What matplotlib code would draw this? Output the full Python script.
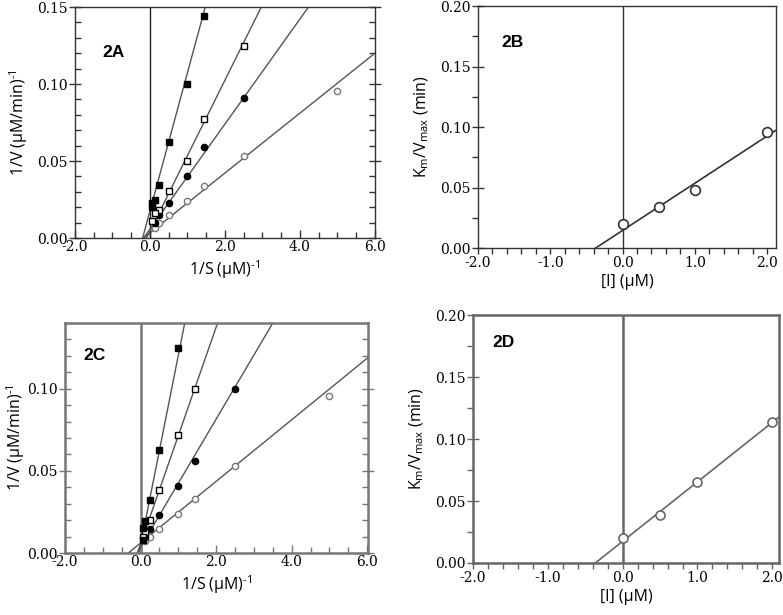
import numpy as np
import matplotlib
matplotlib.use("Agg")
import matplotlib.pyplot as plt
from matplotlib.ticker import MultipleLocator, FormatStrFormatter

# ---- data ----
# 2A: double reciprocal plot, four inhibitor levels
a_oc_x = [5.0, 2.5, 1.43, 1.0, 0.5, 0.25, 0.125]
a_oc_y = [0.0955, 0.0535, 0.0335, 0.024, 0.0147, 0.0098, 0.0068]
a_fc_x = [2.5, 1.43, 1.0, 0.5, 0.25, 0.125]
a_fc_y = [0.091, 0.059, 0.040, 0.0225, 0.015, 0.010]
a_os_x = [2.5, 1.43, 1.0, 0.5, 0.25, 0.125, 0.0625]
a_os_y = [0.125, 0.0775, 0.050, 0.0305, 0.0185, 0.0163, 0.011]
a_fs_x = [1.43, 1.0, 0.5, 0.25, 0.125, 0.0625, 0.0625]
a_fs_y = [0.144, 0.100, 0.0625, 0.0345, 0.0245, 0.0225, 0.020]
# fitted lines (slope, intercept)
a_slopes = [0.01945, 0.0341, 0.049, 0.0897]
a_inters = [0.0033, 0.0058, 0.0045, 0.0177]

# 2B: secondary plot
b_x = [0.0, 0.5, 1.0, 2.0]
b_y = [0.0195, 0.034, 0.048, 0.096]
b_slope, b_inter = 0.039, 0.0145

# 2C: double reciprocal plot
c_oc_x = [5.0, 2.5, 1.43, 1.0, 0.5, 0.25, 0.125]
c_oc_y = [0.0955, 0.053, 0.033, 0.024, 0.0145, 0.0095, 0.0075]
c_fc_x = [2.5, 1.43, 1.0, 0.5, 0.25, 0.125]
c_fc_y = [0.100, 0.056, 0.041, 0.023, 0.0145, 0.010]
c_os_x = [1.43, 1.0, 0.5, 0.25, 0.125, 0.0625]
c_os_y = [0.100, 0.072, 0.0385, 0.020, 0.0125, 0.010]
c_fs_x = [1.0, 0.5, 0.25, 0.125, 0.0625, 0.0625]
c_fs_y = [0.125, 0.0625, 0.0325, 0.0197, 0.015, 0.008]
c_slopes = [0.01875, 0.039, 0.0659, 0.1157]
c_inters = [0.0061, 0.0035, 0.0056, 0.0047]

# 2D: secondary plot
d_x = [0.0, 0.5, 1.0, 2.0]
d_y = [0.020, 0.039, 0.065, 0.114]
d_slope, d_inter = 0.048, 0.0175

tick_font = {"family": "DejaVu Serif", "size": 10}
label_font = {"family": "Open Sans", "size": 11.5}


def style_axes(ax, color, lw, double_recip):
    for s in ax.spines.values():
        s.set_color(color)
        s.set_linewidth(lw)
    if double_recip:
        ax.tick_params(axis="x", which="both", direction="in", top=False, color=color, width=1)
        ax.tick_params(axis="x", which="major", length=6)
        ax.tick_params(axis="x", which="minor", length=4)
        ax.tick_params(axis="y", which="minor", direction="in", length=4, color=color, width=1,
                       right=True)
    else:
        ax.tick_params(axis="x", which="both", direction="out", top=False, color=color,
                       width=1, length=4)
        ax.tick_params(axis="y", which="minor", direction="out", length=4, color=color, width=1)
    ax.tick_params(axis="y", which="major", direction="inout", length=8, color=color, width=1,
                   right=double_recip)
    for lab in ax.get_xticklabels() + ax.get_yticklabels():
        lab.set_fontfamily(tick_font["family"])
        lab.set_fontsize(tick_font["size"])
    ax.tick_params(axis="both", pad=1.5)


def lineweaver(ax, series, slopes, inters, xlim, ylim, color, lw, ypad):
    ax.axvline(0, color=color, lw=lw)
    xs = np.linspace(-0.35, xlim[1] + 0.1, 200)
    for k, b in zip(slopes, inters):
        ax.plot(xs, k * xs + b, color="#555555", lw=1.0)
    styles = [("o", "white", "#777777", 4.5), ("o", "black", "black", 4.5),
              ("s", "white", "black", 5), ("s", "black", "black", 5)]
    for (x, y), (m, fc, ec, ms) in zip(series, styles):
        ax.plot(x, y, ls="none", marker=m, mfc=fc, mec=ec, ms=ms, mew=1)
    ax.set_xlim(*xlim)
    ax.set_ylim(*ylim)
    ax.xaxis.set_major_locator(MultipleLocator(2))
    ax.xaxis.set_minor_locator(MultipleLocator(0.5))
    ax.yaxis.set_major_locator(MultipleLocator(0.05))
    ax.yaxis.set_minor_locator(MultipleLocator(0.01))
    ax.xaxis.set_major_formatter(FormatStrFormatter("%.1f"))
    ax.yaxis.set_major_formatter(FormatStrFormatter("%.2f"))
    ax.set_xlabel("1/S (μM)$^{\\text{-1}}$", fontdict=label_font, labelpad=3)
    ax.set_ylabel("1/V (μM/min)$^{\\text{-1}}$", fontdict=label_font, labelpad=ypad)


def secondary(ax, x, y, k, b, xlim, color, lw, ms):
    ax.axvline(0, color=color, lw=lw)
    xs = np.linspace(-0.5, xlim[1] + 0.1, 100)
    ax.plot(xs, k * xs + b, color=color, lw=1.2)
    ax.plot(x, y, ls="none", marker="o", mfc="white", mec=color, ms=ms, mew=1.2)
    ax.set_xlim(*xlim)
    ax.set_ylim(0, 0.20)
    ax.xaxis.set_major_locator(MultipleLocator(1))
    ax.xaxis.set_minor_locator(MultipleLocator(0.2))
    ax.yaxis.set_major_locator(MultipleLocator(0.05))
    ax.yaxis.set_minor_locator(MultipleLocator(0.025))
    ax.xaxis.set_major_formatter(FormatStrFormatter("%.1f"))
    ax.yaxis.set_major_formatter(FormatStrFormatter("%.2f"))
    ax.set_xlabel("[I] (μM)", fontdict=label_font, labelpad=3)
    ax.set_ylabel("K$_{\\mathrm{m}}$/V$_{\\mathrm{max}}$ (min)", fontdict=label_font, labelpad=6)


plt.rcParams["mathtext.fontset"] = "custom"
plt.rcParams["mathtext.rm"] = "Open Sans"
plt.rcParams["mathtext.it"] = "Open Sans"

fig = plt.figure(figsize=(7.83, 6.15), dpi=100)

axA = fig.add_axes([0.0958, 0.613, 0.383, 0.3756])
lineweaver(axA, [(a_oc_x, a_oc_y), (a_fc_x, a_fc_y), (a_os_x, a_os_y), (a_fs_x, a_fs_y)],
           a_slopes, a_inters, (-2, 6), (0, 0.15), "#222222", 1.0, 5)
style_axes(axA, "#333333", 1.0, True)
axA.text(0.09, 0.805, "2A", transform=axA.transAxes, fontsize=12.5, fontweight="bold",
         family="Liberation Sans", va="center")

axB = fig.add_axes([0.6105, 0.5967, 0.3806, 0.3935])
secondary(axB, b_x, b_y, b_slope, b_inter, (-2, 2.125), "#333333", 1.0, 7)
style_axes(axB, "#333333", 1.0, False)
axB.text(0.08, 0.85, "2B", transform=axB.transAxes, fontsize=12.5, fontweight="bold",
         family="Liberation Sans", va="center")

axC = fig.add_axes([0.083, 0.1008, 0.387, 0.374])
lineweaver(axC, [(c_oc_x, c_oc_y), (c_fc_x, c_fc_y), (c_os_x, c_os_y), (c_fs_x, c_fs_y)],
           c_slopes, c_inters, (-2, 6.02), (0, 0.14), "#777777", 1.8, 0)
style_axes(axC, "#777777", 1.8, True)
axC.text(0.06, 0.86, "2C", transform=axC.transAxes, fontsize=12.5, fontweight="bold",
         family="Liberation Sans", va="center")

axD = fig.add_axes([0.604, 0.0846, 0.391, 0.403])
secondary(axD, d_x, d_y, d_slope, d_inter, (-2, 2.09), "#666666", 1.8, 6.5)
style_axes(axD, "#666666", 1.8, False)
axD.text(0.065, 0.89, "2D", transform=axD.transAxes, fontsize=12.5, fontweight="bold",
         family="Liberation Sans", va="center")

fig.savefig("out.png", dpi=100)
